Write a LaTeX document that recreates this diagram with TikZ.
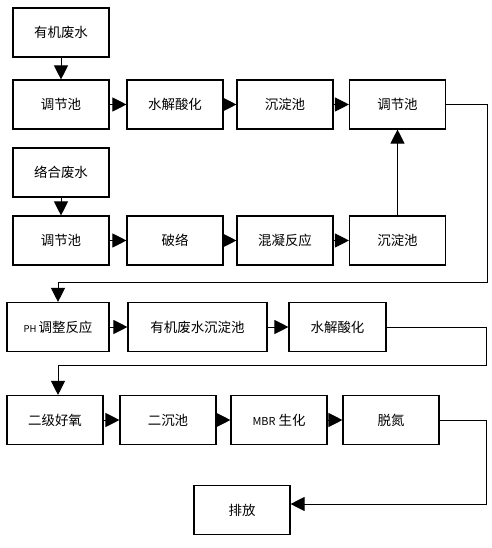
\documentclass[tikz,border=0pt]{standalone}
\usepackage{fontspec}
\newfontfamily\cjk{Noto Sans CJK SC}
\usetikzlibrary{arrows.meta}

\begin{document}
\begin{tikzpicture}[x=1bp,y=-1bp,
  font=\cjk\fontsize{13.5}{16}\selectfont,
  box/.style={draw,line width=1.1bp,minimum width=96bp,minimum height=49bp,inner sep=0pt},
  flow/.style={line width=0.9bp,-{Triangle[width=14bp,length=14bp]}},
  every node/.style={align=center}]

\useasboundingbox (0,0) rectangle (492,548);

%draw source boxes
    \node[box] (organic) at (61,32.5) {有机废水};
    \node[box] (complex) at (61,172.5) {络合废水};

%draw first two rows
    \node[box] (r1a) at (61,104.5) {调节池};
    \node[box] (r1b) at (175,104.5) {水解酸化};
    \node[box] (r1c) at (285,104.5) {沉淀池};
    \node[box] (r1d) at (397.5,104.5) {调节池};
    \node[box] (r2a) at (61,240.5) {调节池};
    \node[box] (r2b) at (175,240.5) {破络};
    \node[box] (r2c) at (285,240.5) {混凝反应};
    \node[box] (r2d) at (397.5,240.5) {沉淀池};

%draw last rows
    \node[box,minimum width=102bp] (ph) at (58,327) {{\fontsize{9.5}{10}\selectfont PH }调整反应};
    \node[box,minimum width=139bp] (settle) at (197.5,327) {有机废水沉淀池};
    \node[box,minimum width=97bp] (r3c) at (337.5,327) {水解酸化};
    \node[box] (r4a) at (55,420) {二级好氧};
    \node[box] (r4b) at (168,420) {二沉池};
    \node[box] (r4c) at (279,420) {{\fontsize{11}{12}\selectfont MBR} 生化};
    \node[box] (r4d) at (391,420) {脱氮};
    \node[box] (out) at (242,510) {排放};

%bend points
    \coordinate (c1) at (487,282);
    \coordinate (c2) at (486,365);
    \coordinate (c3) at (486,504);

%draw flows
    \draw[flow] (organic) -- (r1a);
    \draw[flow] (complex) -- (r2a);
    \foreach \a/\b in {r1a/r1b, r1b/r1c, r1c/r1d, r2a/r2b, r2b/r2c, r2c/r2d,
                       ph/settle, settle/r3c, r4a/r4b, r4b/r4c, r4c/r4d}
    \draw[flow] (\a) -- (\b);
    \draw[flow] (r2d) -- (r1d);
    \draw[flow] (r1d.east) -| (c1) -| (ph.north);
    \draw[flow] (r3c.east) -| (c2) -| (ph.north |- r4a.north);
    \draw[flow] (r4d.east) -| (c3) -- (c3 -| out.east);

\end{tikzpicture}
\end{document}
